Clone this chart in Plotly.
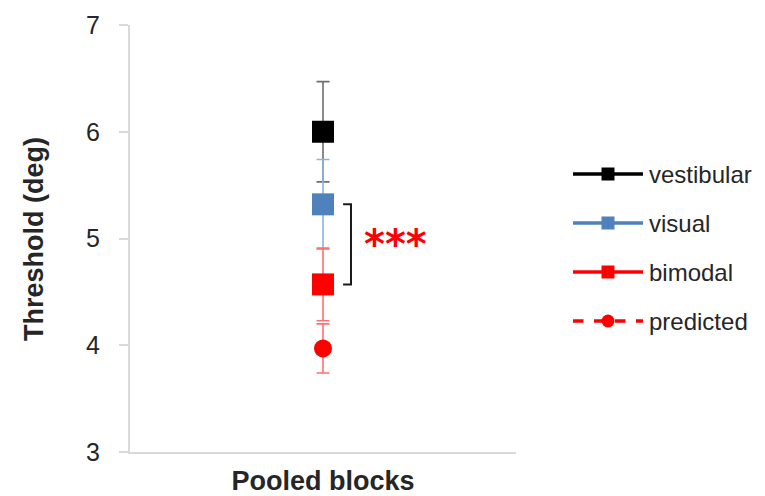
import plotly.graph_objects as go

# ---- data ----
category = ["Pooled blocks"]
series_names = ["vestibular", "visual", "bimodal", "predicted"]
thresholds = [6.00, 5.32, 4.57, 3.97]
errors = [0.47, 0.42, 0.34, 0.23]
y_ticks = [3, 4, 5, 6, 7]
significance = "***"

# ---- styles ----
marker_colors = ["#000000", "#4f81bd", "#ff0000", "#ff0000"]
err_colors = ["#6e6e6e", "#8db3e2", "#ff7070", "#ff7070"]
symbols = ["square", "square", "square", "circle"]
msizes = [22, 22, 22, 18]
dashes = ["solid", "solid", "solid", "dash"]
font_family = "Liberation Sans, Arial, sans-serif"
text_color = "#262626"

W, H = 765, 496
ml, mr, mt, mb = 130, 10, 25, 44
pw = W - ml - mr
ph = H - mt - mb
plot_right = 516
leg_x0, leg_x1 = 573, 643

fig = go.Figure()

# main series
for i, name in enumerate(series_names):
    fig.add_trace(go.Scatter(
        x=category, y=[thresholds[i]], mode="markers", name=name,
        marker=dict(symbol=symbols[i], size=msizes[i], color=marker_colors[i],
                    line=dict(width=0)),
        error_y=dict(type="data", array=[errors[i]], visible=True,
                     color=err_colors[i], thickness=1.6, width=6.5),
        showlegend=False, xaxis="x", yaxis="y",
    ))

# manual legend on secondary axes
for i, name in enumerate(series_names):
    fig.add_trace(go.Scatter(
        x=[0, 1], y=[i, i], mode="lines",
        line=dict(color=marker_colors[i], width=3.5, dash=dashes[i]),
        showlegend=False, hoverinfo="skip", xaxis="x2", yaxis="y2",
    ))
    fig.add_trace(go.Scatter(
        x=[0.5], y=[i], mode="markers",
        marker=dict(symbol=symbols[i], size=13, color=marker_colors[i],
                    line=dict(width=0), opacity=1),
        showlegend=False, hoverinfo="skip", xaxis="x2", yaxis="y2",
    ))
    fig.add_annotation(x=1, y=i, xref="x2", yref="y2", text=name,
                       showarrow=False, xanchor="left", yanchor="middle",
                       xshift=4, font=dict(size=24, color=text_color, family=font_family))

# significance bracket between visual and bimodal
bx, btick = 0.0725, 0.052
y_top, y_bot = thresholds[1], thresholds[2]
fig.add_shape(type="path",
              path=f"M {btick} {y_top} L {bx} {y_top} L {bx} {y_bot} L {btick} {y_bot}",
              xref="x", yref="y", line=dict(color="#1a1a1a", width=2))
fig.add_annotation(x=0.189, y=(y_top + y_bot) / 2, xref="x", yref="y",
                   text=significance, showarrow=False,
                   font=dict(size=40, color="#ff0000", family="DejaVu Sans", weight="bold"),
                   yshift=0)

# y title
fig.add_annotation(x=(34 - ml) / pw, y=(H - mb - 239) / ph,
                   xref="paper", yref="paper", text="Threshold (deg)",
                   textangle=-90, showarrow=False, xanchor="center", yanchor="middle",
                   font=dict(size=27, color=text_color, family=font_family, weight="bold"))

leg_top = (mt - 174) / 49
leg_bot = (H - mb - 174) / 49

fig.update_layout(
    width=W, height=H,
    margin=dict(l=ml, r=mr, t=mt, b=mb),
    paper_bgcolor="white", plot_bgcolor="white",
    font=dict(family=font_family, color=text_color),
    xaxis=dict(domain=[0, (plot_right - ml) / pw], type="category", automargin=False,
               range=[-0.5, 0.5], showline=True, linecolor="#d9d9d9", linewidth=2,
               ticks="", showgrid=False, zeroline=False,
               tickfont=dict(size=27, color=text_color, weight="bold"),
               ticklabelstandoff=4),
    yaxis=dict(range=[3, 7], tickvals=y_ticks, showline=True, linecolor="#d9d9d9",
               automargin=False,
               linewidth=2, ticks="outside", ticklen=9, tickcolor="#d9d9d9",
               tickwidth=2, showgrid=False, zeroline=False,
               tickfont=dict(size=25, color=text_color), ticklabelstandoff=14),
    xaxis2=dict(domain=[(leg_x0 - ml) / pw, (leg_x1 - ml) / pw], range=[0, 1],
                visible=False, anchor="y2"),
    yaxis2=dict(domain=[0, 1], range=[leg_bot, leg_top], visible=False, anchor="x2"),
)

fig.write_html("out.html")
